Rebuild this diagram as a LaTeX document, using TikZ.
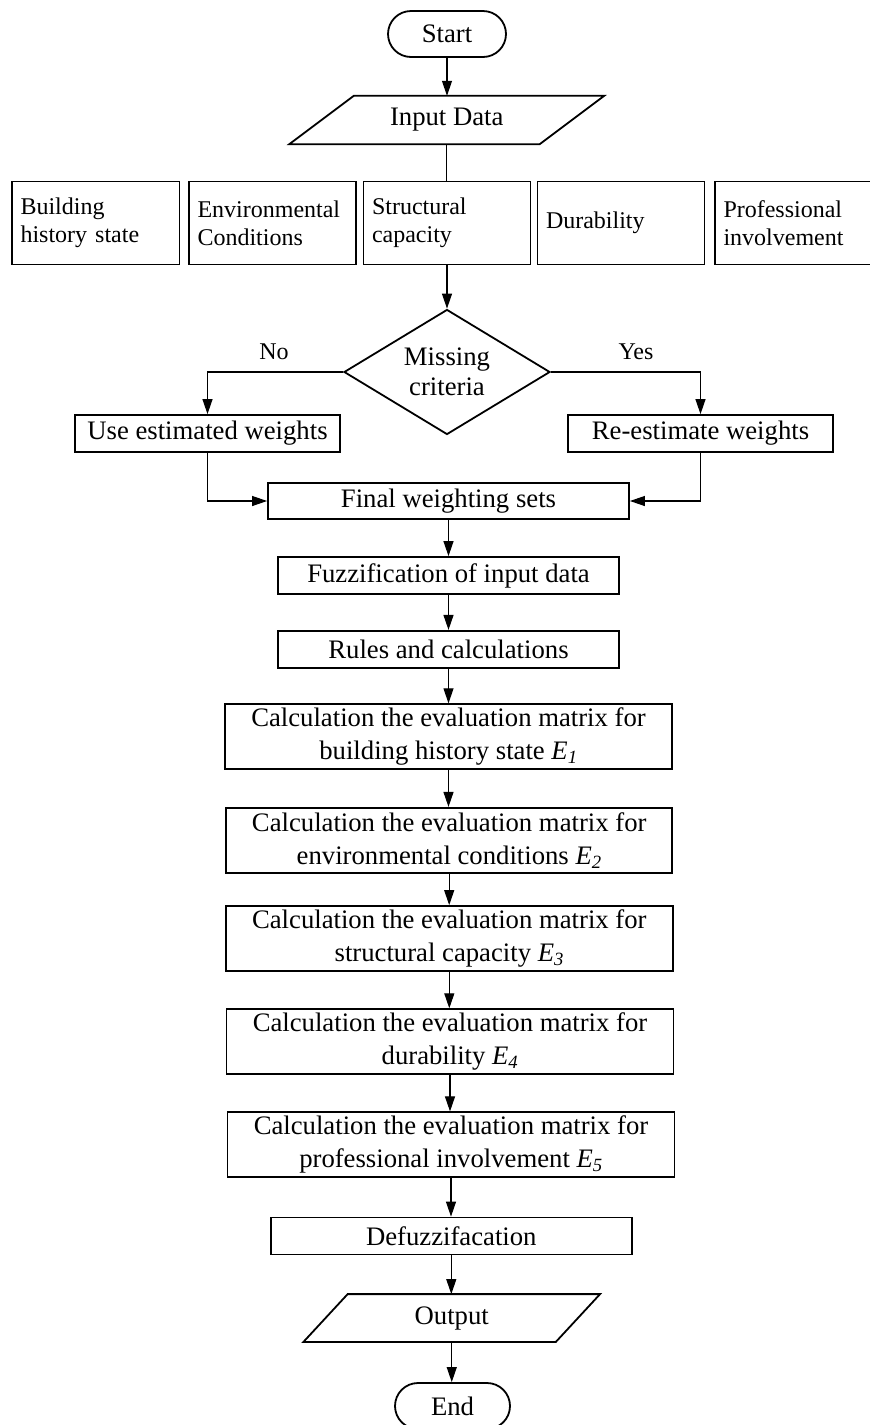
\documentclass[tikz,border=0pt]{standalone}
\usepackage{fontspec}
\setmainfont{Liberation Serif}
\usetikzlibrary{arrows.meta,shapes.geometric,calc}

\tikzset{
  boxline/.style={line width=1.8pt},
  procbox/.style={boxline, draw, rectangle, inner sep=0pt, align=center,
    font=\fontsize{26.7}{33}\selectfont},
  critbox/.style={boxline, draw, rectangle, inner xsep=8.5pt, inner ysep=0pt,
    text width=150pt, minimum height=83pt, align=left,
    font=\fontsize{24}{28}\selectfont},
  termbox/.style={boxline, draw, rectangle, rounded corners=23pt, inner sep=0pt,
    minimum width=116pt, minimum height=46pt, font=\fontsize{26.7}{33}\selectfont},
  iocore/.style={rectangle, inner sep=0pt, font=\fontsize{26.7}{33}\selectfont},
  decision/.style={boxline, draw, diamond, inner sep=0pt, aspect=1.65,
    minimum width=206pt, minimum height=125pt, align=center,
    font=\fontsize{26.7}{30}\selectfont},
  branchlabel/.style={inner sep=0pt, font=\fontsize{24}{28}\selectfont},
  link/.style={line width=1.1pt},
  arr/.style={link, -{Triangle[length=15pt,width=10pt]}}
}

\newcommand{\evalE}[1]{\textit{E\textsubscript{#1}}}

\begin{document}
\begin{tikzpicture}[x=1pt,y=-1pt]
\useasboundingbox (0,0) rectangle (870,1425);

% terminator and data input
\node[termbox, minimum width=118pt] (start) at (447,34) {Start};
\node[iocore, minimum width=250pt, minimum height=48pt] (in) at (446.75,120) {Input Data};
\draw[boxline, line join=miter]
  ($(in.north west)+(32.25,0)$) -- ($(in.north east)+(32.25,0)$) --
  ($(in.south east)+(-32.25,0)$) -- ($(in.south west)+(-32.25,0)$) -- cycle;

% the five criteria
\node[critbox, text width=150.4pt] (b1) at (95.7,223) {Building\\history state};
\node[critbox] (b2) at (272.5,223) {Environmental\\Conditions};
\node[critbox] (b3) at (447,223) {Structural\\capacity};
\node[critbox] (b4) at (621,223) {Durability};
\node[critbox] (b5) at (798.5,223) {Professional\\involvement};

% decision on missing criteria
\node[decision] (miss) at (447,372) {Missing\\criteria};
\node[branchlabel] (no) at (274,352) {No};
\node[branchlabel] (yes) at (636,352) {Yes};

\node[procbox, minimum width=265pt, minimum height=37pt] (use) at (207.5,433.5) {Use estimated weights};
\node[procbox, minimum width=265pt, minimum height=37pt] (re) at (700.5,433.5) {Re-estimate weights};
\node[procbox, minimum width=361pt, minimum height=36pt] (fin) at (448.5,501) {Final weighting sets};

% fuzzy evaluation chain
\node[procbox, minimum width=341pt, minimum height=37pt] (fuz) at (448.5,575.5) {Fuzzification of input data};
\node[procbox, minimum width=341pt, minimum height=37pt] (rul) at (448.5,649.3) {Rules and calculations};
\node[procbox, minimum width=447pt, minimum height=65pt] (e1) at (448.5,736.7)
  {Calculation the evaluation matrix for\\building history state \evalE{1}};
\node[procbox, minimum width=446pt, minimum height=65pt] (e2) at (449.2,840.3)
  {Calculation the evaluation matrix for\\environmental conditions \evalE{2}};
\node[procbox, minimum width=447pt, minimum height=65pt] (e3) at (449.3,938.5)
  {Calculation the evaluation matrix for\\structural capacity \evalE{3}};
\node[procbox, minimum width=447pt, minimum height=65pt] (e4) at (450,1041.7)
  {Calculation the evaluation matrix for\\durability \evalE{4}};
\node[procbox, minimum width=447pt, minimum height=65pt] (e5) at (451,1144.8)
  {Calculation the evaluation matrix for\\professional involvement \evalE{5}};
\node[procbox, minimum width=361pt, minimum height=37pt] (def) at (451.3,1236) {Defuzzifacation};

% data output and end
\node[iocore, minimum width=252pt, minimum height=47.4pt] (out) at (451.75,1318) {Output};
\draw[boxline, line join=miter]
  ($(out.north west)+(22.1,0)$) -- ($(out.north east)+(22.1,0)$) --
  ($(out.south east)+(-22.1,0)$) -- ($(out.south west)+(-22.1,0)$) -- cycle;
\node[termbox, minimum width=115pt] (end) at (452.5,1406) {End};

% connectors
\draw[arr] (start.south) -- (start.south |- in.north);
\draw[link] (in.south) -- (in.south |- b3.north);
\draw[arr] (b3.south) -- (b3.south |- miss.north);
\draw[arr] (miss.west) -| (use.north);
\draw[arr] (miss.east) -| (re.north);
\draw[arr] (use.south) |- (fin.west);
\draw[arr] (re.south) |- (fin.east);
\draw[arr] (fin.south) -- (fin.south |- fuz.north);
\draw[arr] (fuz.south) -- (fuz.south |- rul.north);
\draw[arr] (rul.south) -- (rul.south |- e1.north);
\draw[arr] (e1.south) -- (e1.south |- e2.north);
\draw[arr] (e2.south) -- (e2.south |- e3.north);
\draw[arr] (e3.south) -- (e3.south |- e4.north);
\draw[arr] (e4.south) -- (e4.south |- e5.north);
\draw[arr] (e5.south) -- (e5.south |- def.north);
\draw[arr] (def.south) -- (def.south |- out.north);
\draw[arr] (out.south) -- (out.south |- end.north);
\end{tikzpicture}
\end{document}
